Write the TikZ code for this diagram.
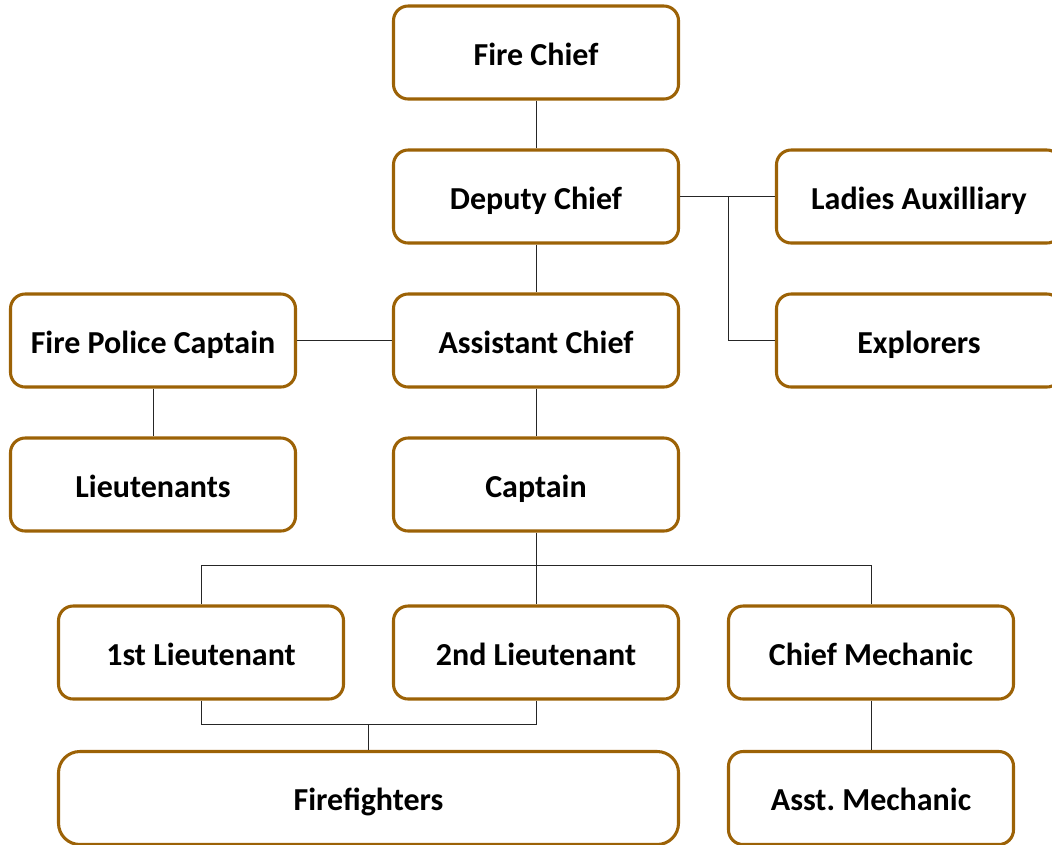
\documentclass[tikz,border=0pt]{standalone}
\usepackage{fontspec}
\setmainfont{Carlito}
\definecolor{boxbrown}{HTML}{9C6206}
\begin{document}
\begin{tikzpicture}[x=0.75pt,y=-0.75pt,
    rank/.style={draw=boxbrown,line width=2.3pt,rounded corners=11pt,fill=white,
      minimum width=213.75pt,minimum height=69.75pt,text height=19pt,text depth=0pt,
      font=\fontsize{24}{28}\selectfont\bfseries},
    link/.style={draw=black!85,line width=0.6pt}]
  \useasboundingbox (0,0) rectangle (1052,844);

  \node[rank] (firechief) at (536,52.5) {Fire Chief};
  \node[rank] (deputy) at (536,196.5) {Deputy Chief};
  \node[rank] (ladies) at (919,196.5) {Ladies Auxilliary};
  \node[rank] (policecpt) at (153,340.5) {Fire Police Captain};
  \node[rank] (assistant) at (536,340.5) {Assistant Chief};
  \node[rank] (explorers) at (919,340.5) {Explorers};
  \node[rank] (lieutenants) at (153,484.5) {Lieutenants};
  \node[rank] (captain) at (536,484.5) {Captain};
  \node[rank] (firstlt) at (201,652.5) {1st Lieutenant};
  \node[rank] (secondlt) at (536,652.5) {2nd Lieutenant};
  \node[rank] (chiefmech) at (871,652.5) {Chief Mechanic};
  \node[rank,minimum width=465pt,rounded corners=16pt] (firefighters) at (368.5,798) {Firefighters};
  \node[rank] (asstmech) at (871,798) {Asst.\ Mechanic};

  \coordinate (depbranch) at (728,196.5);
  \coordinate (captbranch) at (536,565);
  \coordinate (ltjoin) at (368.5,724);

  % chain of command
  \draw[link] (firechief) -- (deputy);
  \draw[link] (deputy) -- (assistant);
  \draw[link] (assistant) -- (captain);
  \draw[link] (policecpt) -- (assistant);
  \draw[link] (policecpt) -- (lieutenants);
  \draw[link] (deputy) -- (ladies);
  \draw[link] (depbranch) |- (explorers);
  \draw[link] (captain) -- (captbranch);
  \draw[link] (captbranch) -| (firstlt);
  \draw[link] (captbranch) -| (chiefmech);
  \draw[link] (captbranch) -- (secondlt);
  \draw[link] (firstlt.south) |- (ltjoin) -| (secondlt.south);
  \draw[link] (ltjoin) -- (firefighters);
  \draw[link] (chiefmech) -- (asstmech);
\end{tikzpicture}
\end{document}
